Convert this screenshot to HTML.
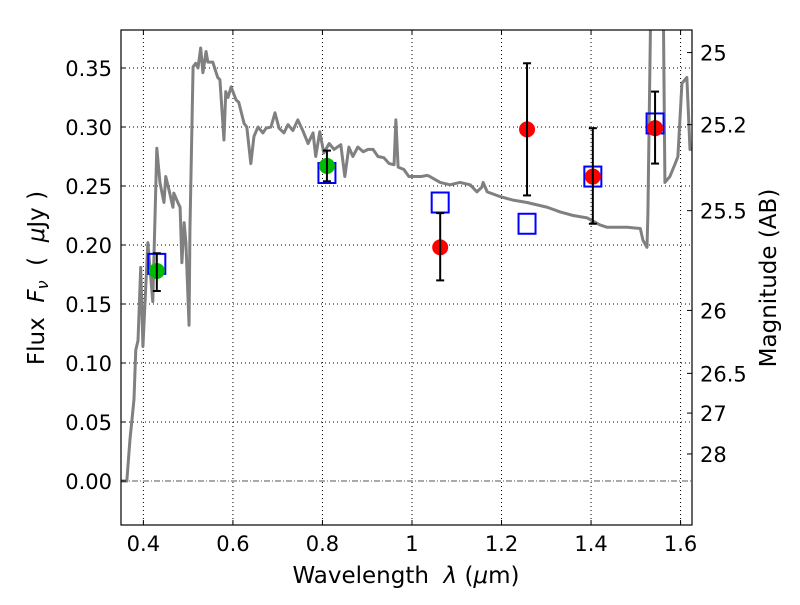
<!DOCTYPE html>
<html><head><meta charset="utf-8"><style>
body{margin:0;background:#fff;}
svg text{font-family:"DejaVu Sans","Liberation Sans",sans-serif;fill:#000;}
</style></head><body>
<svg id="chart" width="800" height="600" viewBox="0 0 800 600" xmlns="http://www.w3.org/2000/svg">
<g id="grid"></g>
<g id="spec"></g>
<g id="marks"></g>
<g id="axes"></g>
</svg>
<script>
const xTicks=[0.4,0.6,0.8,1.0,1.2,1.4,1.6];
const xTickLabels=["0.4","0.6","0.8","1","1.2","1.4","1.6"];
const yTicks=[0,0.05,0.1,0.15,0.2,0.25,0.3,0.35];
const yTickLabels=["0.00","0.05","0.10","0.15","0.20","0.25","0.30","0.35"];
const magTicks=[25,25.2,25.5,26,26.5,27,28];
const magTickLabels=["25","25.2","25.5","26","26.5","27","28"];
const specLam=[0.350,0.363,0.370,0.379,0.383,0.388,0.394,0.399,0.410,0.421,0.430,0.437,0.446,0.450,0.457,0.466,0.468,0.477,0.482,0.486,0.491,0.495,0.502,0.504,0.511,0.517,0.522,0.528,0.533,0.540,0.544,0.555,0.566,0.571,0.580,0.584,0.589,0.596,0.607,0.613,0.625,0.631,0.640,0.647,0.656,0.667,0.674,0.685,0.694,0.703,0.714,0.723,0.734,0.745,0.756,0.768,0.779,0.785,0.794,0.803,0.815,0.826,0.841,0.850,0.859,0.868,0.879,0.891,0.902,0.913,0.924,0.937,0.949,0.960,0.964,0.969,0.982,0.993,1.020,1.034,1.040,1.063,1.085,1.107,1.130,1.145,1.156,1.159,1.168,1.197,1.226,1.257,1.302,1.331,1.360,1.391,1.420,1.436,1.481,1.510,1.516,1.525,1.527,1.534,1.561,1.565,1.576,1.588,1.594,1.603,1.614,1.621,1.625];
const specFlux=[0,0,0.035,0.069,0.111,0.119,0.181,0.114,0.202,0.152,0.282,0.253,0.236,0.258,0.247,0.232,0.244,0.236,0.232,0.185,0.219,0.202,0.132,0.213,0.351,0.354,0.350,0.367,0.346,0.364,0.355,0.355,0.342,0.340,0.289,0.330,0.325,0.334,0.323,0.321,0.303,0.300,0.269,0.292,0.300,0.295,0.299,0.300,0.312,0.299,0.295,0.302,0.297,0.306,0.297,0.286,0.295,0.275,0.296,0.278,0.286,0.281,0.285,0.258,0.283,0.275,0.283,0.279,0.281,0.281,0.275,0.274,0.269,0.268,0.306,0.266,0.264,0.258,0.258,0.259,0.258,0.253,0.251,0.253,0.251,0.245,0.249,0.253,0.245,0.241,0.238,0.236,0.232,0.228,0.225,0.223,0.217,0.215,0.215,0.214,0.204,0.198,0.227,0.42,0.42,0.253,0.258,0.269,0.275,0.337,0.342,0.281,0.281];
const obsLam=[0.430,0.810];
const obsFlux=[0.178,0.267];
const obsLo=[0.161,0.254];
const obsHi=[0.193,0.280];
const modLam=[0.430,0.810,1.063,1.257,1.404,1.543];
const modFlux=[0.184,0.261,0.236,0.218,0.258,0.303];
const newLam=[1.063,1.257,1.404,1.543];
const newFlux=[0.198,0.298,0.258,0.299];
const newLo=[0.170,0.242,0.218,0.269];
const newHi=[0.227,0.354,0.299,0.330];

const L=121,R=692,T=30,B=525;
const xmin=0.35,xmax=1.6255,ymin=-0.0373,ymax=0.3822;
const X=v=>L+(v-xmin)/(xmax-xmin)*(R-L);
const Y=v=>B-(v-ymin)/(ymax-ymin)*(B-T);
const magY=m=>Y(Math.pow(10,(23.9-m)/2.5));
const NS="http://www.w3.org/2000/svg";
function mk(parent,tag,attrs){const e=document.createElementNS(NS,tag);for(const k in attrs)e.setAttribute(k,attrs[k]);parent.appendChild(e);return e;}
const grid=document.getElementById('grid'),spec=document.getElementById('spec'),marks=document.getElementById('marks'),axes=document.getElementById('axes');

xTicks.forEach((t,i)=>{
 const gl=mk(grid,'line',{x1:X(t),x2:X(t),y1:T,y2:B,stroke:'#000','stroke-width':1,'stroke-dasharray':'1,3'});
 
 
 mk(axes,'line',{x1:X(t),x2:X(t),y1:B,y2:B-5,stroke:'#000'});
 mk(axes,'line',{x1:X(t),x2:X(t),y1:T,y2:T+5,stroke:'#000'});
 const tx=mk(axes,'text',{x:X(t),y:B+26,'font-size':21,'text-anchor':'middle'});
 tx.textContent=xTickLabels[i];
 
 
});
yTicks.forEach((t,i)=>{
 if(t!==0){const gl=mk(grid,'line',{x1:L,x2:R,y1:Y(t),y2:Y(t),stroke:'#000','stroke-width':1,'stroke-dasharray':'1,3'});
 
 }
 mk(axes,'line',{x1:L,x2:L+5,y1:Y(t),y2:Y(t),stroke:'#000'});
 const tx=mk(axes,'text',{x:L-9,y:Y(t)+8,'font-size':21,'text-anchor':'end'});
 tx.textContent=yTickLabels[i];
 
 
});
const zl=mk(grid,'line',{x1:L,x2:R,y1:Y(0),y2:Y(0),stroke:'#555','stroke-width':1,'stroke-dasharray':'6,2,1,2'});


magTicks.forEach((m,i)=>{
 mk(axes,'line',{x1:R,x2:R-5,y1:magY(m),y2:magY(m),stroke:'#000'});
 const tx=mk(axes,'text',{x:R+8,y:magY(m)+8,'font-size':21});
 tx.textContent=magTickLabels[i];
 
 
});

const cp=mk(document.getElementById('chart'),'clipPath',{id:'clip'});
mk(cp,'rect',{x:L,y:T,width:R-L,height:B-T});
spec.setAttribute('clip-path','url(#clip)');
const pl=mk(spec,'polyline',{points:specLam.map((l,i)=>X(l)+','+Y(specFlux[i])).join(' '),fill:'none',stroke:'#808080','stroke-width':3,'stroke-linejoin':'round'});



modLam.forEach((l,i)=>{
 const r=mk(marks,'rect',{x:X(l)-8.5,y:Y(modFlux[i])-10,width:17,height:20,fill:'none',stroke:'#0000ff','stroke-width':2});
 
 
});
function errbar(l,lo,hi){
 const g=mk(marks,'g',{stroke:'#000','stroke-width':2});
 
 
 mk(g,'line',{x1:X(l),x2:X(l),y1:Y(lo),y2:Y(hi)});
 mk(g,'line',{x1:X(l)-4,x2:X(l)+4,y1:Y(lo),y2:Y(lo)});
 mk(g,'line',{x1:X(l)-4,x2:X(l)+4,y1:Y(hi),y2:Y(hi)});
}
obsLam.forEach((l,i)=>{
 const c=mk(marks,'circle',{cx:X(l),cy:Y(obsFlux[i]),r:8,fill:'#00bb00'});
 
 
 errbar(l,obsLo[i],obsHi[i]);
});
newLam.forEach((l,i)=>{
 const c=mk(marks,'circle',{cx:X(l),cy:Y(newFlux[i]),r:8,fill:'#ff0000'});
 
 
 errbar(l,newLo[i],newHi[i]);
});
const fr=mk(axes,'rect',{x:L,y:T,width:R-L,height:B-T,fill:'none',stroke:'#000','stroke-width':1.2});


</script>
<svg width="800" height="600" style="position:absolute;left:0;top:0" xmlns="http://www.w3.org/2000/svg">
<text x="406" y="583" font-size="23" text-anchor="middle" xml:space="preserve">Wavelength  <tspan font-style="italic">λ</tspan> (<tspan font-style="italic">μ</tspan>m)</text>
<text transform="translate(44,278) rotate(-90)" font-size="23" text-anchor="middle" xml:space="preserve">Flux  <tspan font-style="italic">F</tspan><tspan font-style="italic" font-size="16" dy="4">ν</tspan><tspan dy="-4">  (  </tspan><tspan font-style="italic">μ</tspan>Jy )</text>
<text transform="translate(776,278) rotate(-90)" font-size="23" text-anchor="middle">Magnitude (AB)</text>
</svg>
</body></html>
